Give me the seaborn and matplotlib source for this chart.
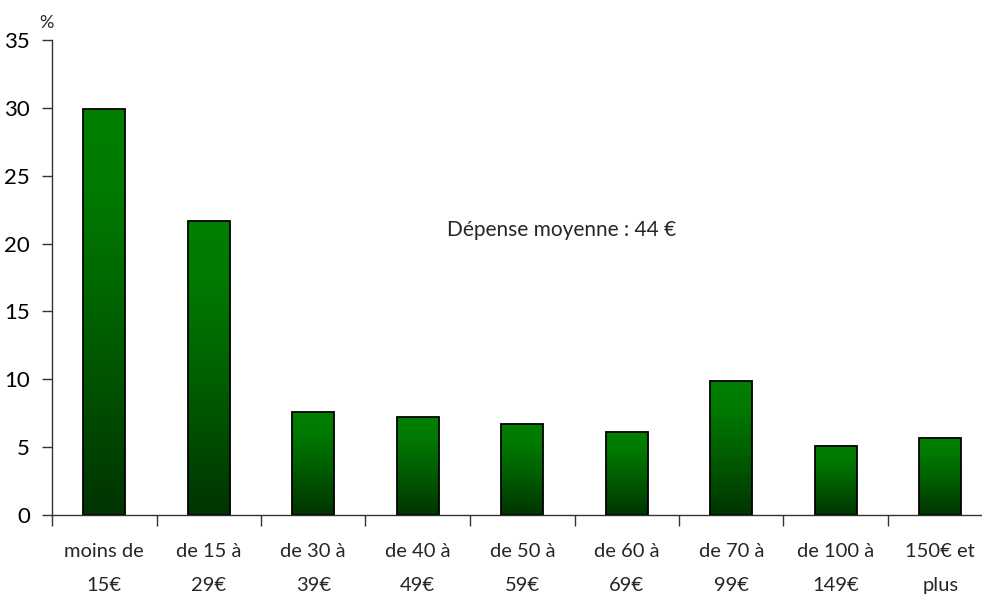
import numpy as np
import pandas as pd
import matplotlib
matplotlib.use("Agg")
import matplotlib.pyplot as plt
import seaborn as sns
from matplotlib.colors import LinearSegmentedColormap

# data
categories = ["moins de\n15€", "de 15 à\n29€", "de 30 à\n39€", "de 40 à\n49€",
              "de 50 à\n59€", "de 60 à\n69€", "de 70 à\n99€", "de 100 à\n149€",
              "150€ et\nplus"]
shares = [29.9, 21.7, 7.6, 7.2, 6.7, 6.1, 9.9, 5.1, 5.7]
y_ticks = [0, 5, 10, 15, 20, 25, 30, 35]
note = "Dépense moyenne : 44 €"

sns.set_style("white")
plt.rcParams["font.family"] = ["Lato", "DejaVu Sans"]

df = pd.DataFrame({"tranche": categories, "part": shares})

fig = plt.figure(figsize=(9.82, 5.98), dpi=100)
ax = fig.add_axes([52 / 982, 83 / 598, 940.5 / 982, 475 / 598])

sns.barplot(data=df, x="tranche", y="part", ax=ax, width=0.40,
            color="#008000", edgecolor="black", linewidth=1.3, zorder=2)

# vertical gradient inside every bar: bright green on top, dark green at bottom
grad_cmap = LinearSegmentedColormap.from_list(
    "g", [(0.0, "#003400"), (0.45, "#005e00"), (0.8, "#007a00"), (1.0, "#008000")])
grad = np.linspace(0, 1, 256).reshape(-1, 1)
for p in ax.patches:
    x0, y0 = p.get_x(), p.get_y()
    w, h = p.get_width(), p.get_height()
    im = ax.imshow(grad, cmap=grad_cmap, origin="lower", aspect="auto",
                   extent=[x0, x0 + w, y0, y0 + h], zorder=1.5)
    im.set_clip_path(p)
    p.set_facecolor("none")

ax.set_xlim(-0.5, len(categories) - 0.5)
ax.set_ylim(0, 35)
ax.set_yticks(y_ticks)
ax.set_yticklabels([str(v) for v in y_ticks], fontsize=16)

# separators between categories as major ticks, labels on minor ticks
ax.set_xticks(np.arange(-0.5, len(categories), 1))
ax.set_xticklabels([])
ax.set_xticks(np.arange(len(categories)), minor=True)
ax.set_xticklabels(categories, minor=True, fontsize=14.5, linespacing=2.25)
ax.tick_params(axis="x", which="major", bottom=True, direction="out",
               length=8, width=1, color="#333333")
ax.tick_params(axis="x", which="minor", bottom=True, length=0, pad=20)
ax.tick_params(axis="y", left=True, direction="out", length=7, width=1,
               color="#333333", pad=9)
ax.tick_params(axis="both", labelcolor="black")

ax.set_xlabel("")
ax.set_ylabel("")
for side in ["top", "right"]:
    ax.spines[side].set_visible(False)
for side in ["left", "bottom"]:
    ax.spines[side].set_color("#333333")
    ax.spines[side].set_linewidth(1)

ax.text(-0.55, 35.7, "%", fontsize=13, ha="center", va="bottom")
ax.text(4.38, 21.0, note, fontsize=15, ha="center", va="center")

fig.savefig("out.png", dpi=100)
